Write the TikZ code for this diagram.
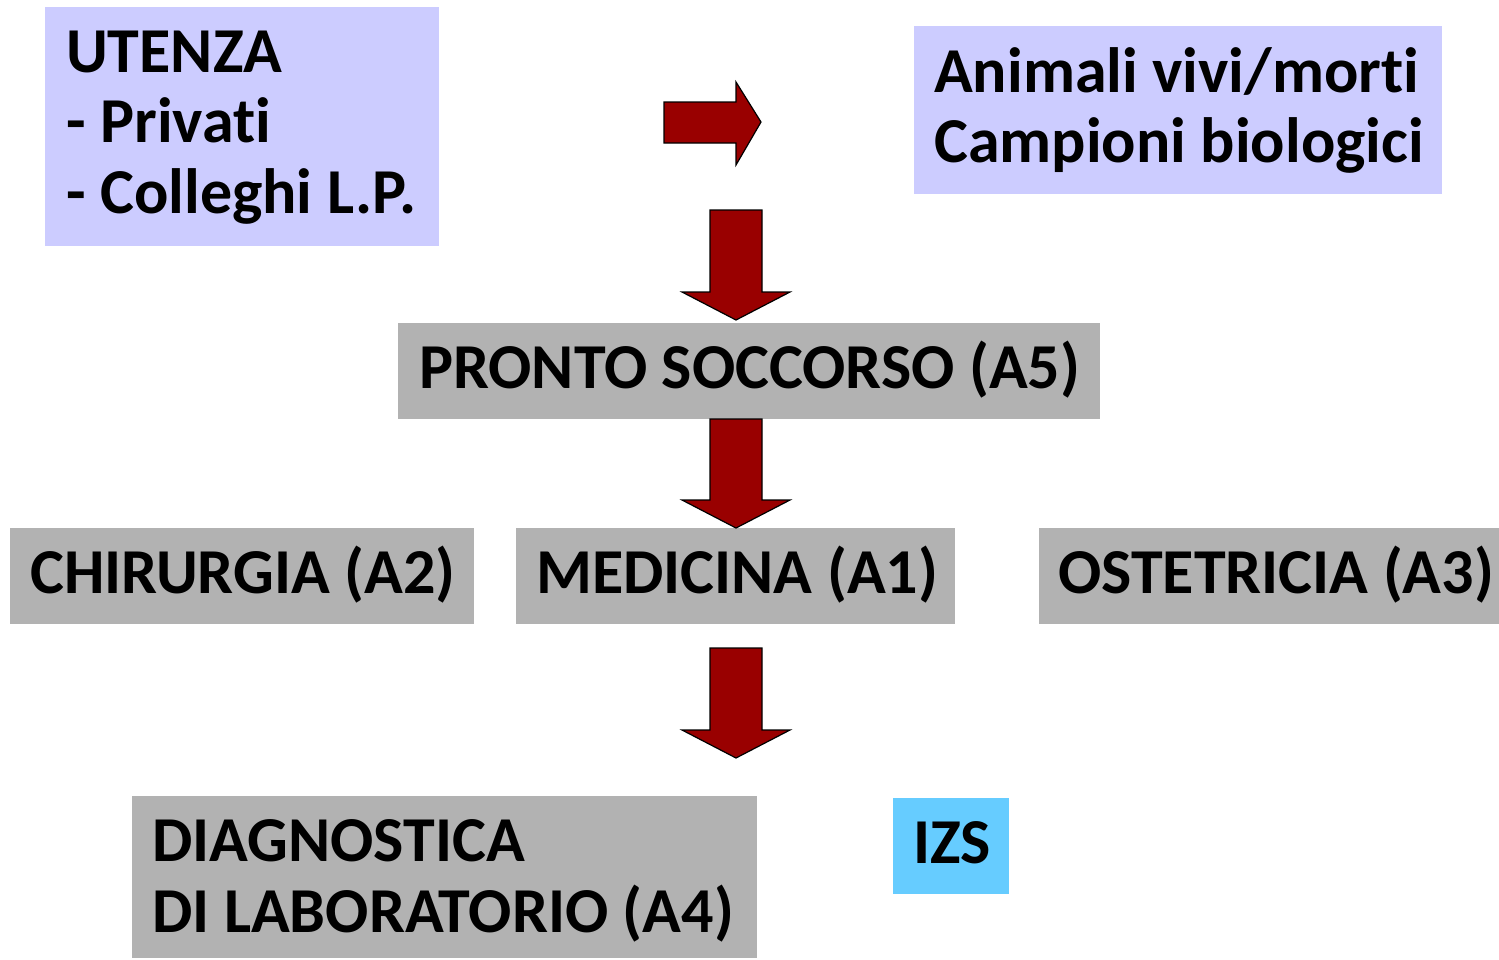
\documentclass[tikz,border=0pt]{standalone}
\usepackage{fontspec}
\setmainfont{Carlito}[Ligatures=NoCommon]
\definecolor{lav}{HTML}{CCCCFF}
\definecolor{grayb}{HTML}{B2B2B2}
\definecolor{izs}{HTML}{66CCFF}
\definecolor{arrred}{HTML}{990000}
\begin{document}
\begin{tikzpicture}[x=1pt,y=-1pt,
  box/.style={draw=none,inner sep=0pt,anchor=north west},
  txt/.style={inner sep=0pt,anchor=base west,font=\fontsize{64}{71}\selectfont\bfseries},
  bigarrow/.style={fill=arrred,draw=black,line width=1.2pt,line join=miter}]
\useasboundingbox (0,0) rectangle (1499,959);
% boxes
\node[box,fill=lav,minimum width=394,minimum height=239] (utenza) at (45,7) {};
\node[box,fill=lav,minimum width=528,minimum height=168] (animali) at (914,26) {};
\node[box,fill=grayb,minimum width=702,minimum height=96] (ps) at (398,323) {};
\node[box,fill=grayb,minimum width=464,minimum height=96] (chir) at (10,528) {};
\node[box,fill=grayb,minimum width=439,minimum height=96] (med) at (516,528) {};
\node[box,fill=grayb,minimum width=460,minimum height=96] (ost) at (1039,528) {};
\node[box,fill=grayb,minimum width=625,minimum height=162] (diag) at (132,796) {};
\node[box,fill=izs,minimum width=116,minimum height=96] (izsbox) at (893,798) {};
% texts
\node[txt] (u1) at (66,72) {UTENZA};
\node[txt] (u2) at (66,142) {- Privati};
\node[txt] (u3) at (66,213) {- Colleghi L.P.};
\node[txt] (a1) at (934,92) {Animali vivi/morti};
\node[txt] (a2) at (934,162) {Campioni biologici};
\node[txt] (pst) at (419,388) {PRONTO SOCCORSO (A5)};
\node[txt] (cht) at (30,593) {CHIRURGIA (A2)};
\node[txt] (mdt) at (536,593) {MEDICINA (A1)};
\node[txt] (ost2) at (1058,593) {OSTETRICIA (A3)};
\node[txt] (d1) at (152,861) {DIAGNOSTICA};
\node[txt] (d2) at (152,932) {DI LABORATORIO (A4)};
\node[txt] (izst) at (913,863) {IZS};
% arrows
\draw[bigarrow] (664,102) -- (736,102) -- (736,82) -- (761,122) -- (736,165) -- (736,143) -- (664,143) -- cycle;
\draw[bigarrow] (710,210) -- (762,210) -- (762,292) -- (790,292) -- (736,320) -- (682,292) -- (710,292) -- cycle;
\draw[bigarrow] (710,419) -- (762,419) -- (762,500) -- (790,500) -- (736,528) -- (682,500) -- (710,500) -- cycle;
\draw[bigarrow] (710,648) -- (762,648) -- (762,730) -- (790,730) -- (736,758) -- (682,730) -- (710,730) -- cycle;
\end{tikzpicture}
\end{document}
